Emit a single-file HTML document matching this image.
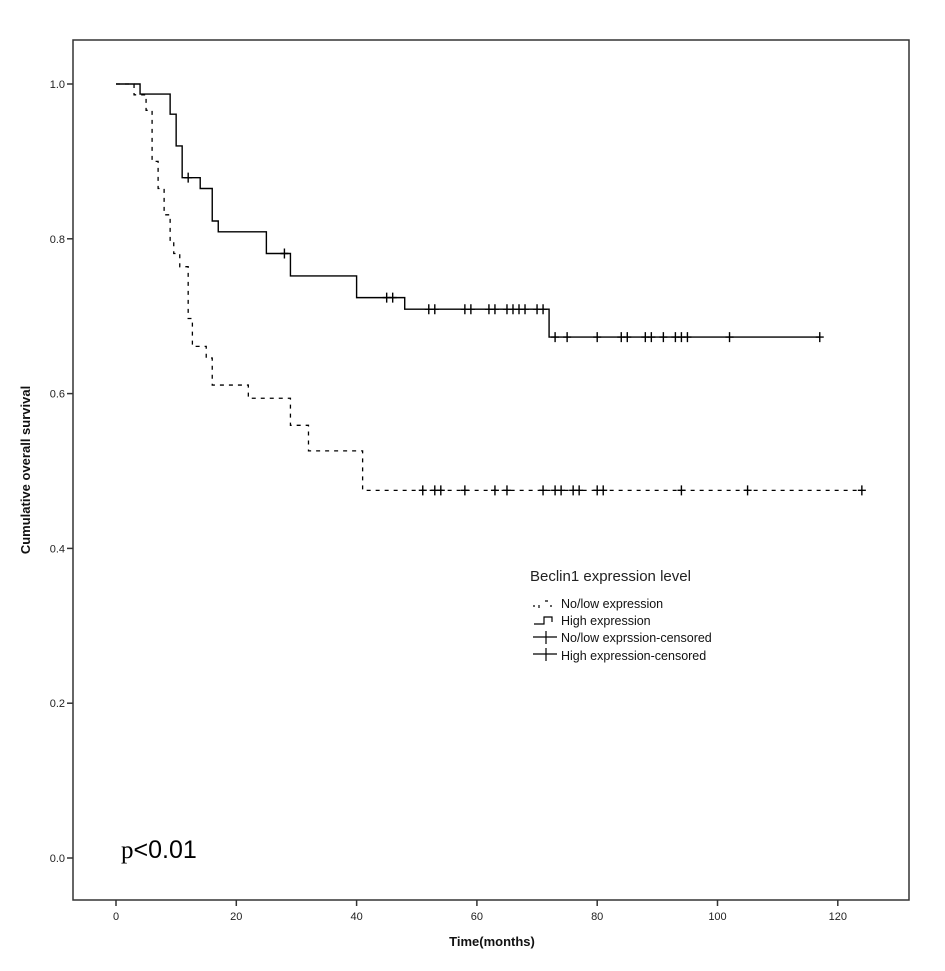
<!DOCTYPE html>
<html><head><meta charset="utf-8"><style>
html,body{margin:0;padding:0;background:#fff;}
svg{display:block;font-family:"Liberation Sans",Arial,sans-serif;}
</style></head><body>
<svg id="chart" width="945" height="971" viewBox="0 0 945 971">
<rect x="0" y="0" width="945" height="971" fill="#fff"/>
<rect x="73" y="40" width="836" height="860" fill="none" stroke="#333" stroke-width="1.5"/>
<g id="axes"></g>
<g id="series"></g>
<text x="30" y="470" transform="rotate(-90 30 470)" text-anchor="middle" font-size="13" font-weight="bold" fill="#111">Cumulative overall survival</text>
<text x="492" y="946" text-anchor="middle" font-size="13" font-weight="bold" fill="#111">Time(months)</text>
<text x="121" y="858" font-size="25" fill="#000"><tspan font-family="Liberation Serif,serif">p</tspan>&lt;0.01</text>
<g>
<text x="530" y="581" font-size="15" fill="#222">Beclin1 expression level</text>
<g>
<path d="M533 606 h2 M539 605 v3 M545 601 h3 M550 606 h2" stroke="#000" stroke-width="1.2" fill="none"/>
<text x="561" y="608" font-size="12.5" fill="#111">No/low expression</text></g>
<g>
<path d="M534 624 h10 v-7 h8 v5" stroke="#000" stroke-width="1.2" fill="none"/>
<text x="561" y="625" font-size="12.5" fill="#111">High expression</text></g>
<g>
<path d="M533 637 h24 M546 631 v13" stroke="#000" stroke-width="1.2" fill="none"/>
<text x="561" y="642" font-size="12.5" fill="#111">No/low exprssion-censored</text></g>
<g>
<path d="M533 654 h24 M546 648 v13" stroke="#000" stroke-width="1.2" fill="none"/>
<text x="561" y="660" font-size="12.5" fill="#111">High expression-censored</text></g>
</g>
</svg>
<script>
const xTicks=[0,20,40,60,80,100,120];
const yTicks=[0.0,0.2,0.4,0.6,0.8,1.0];
const yTickLabels=["0.0","0.2","0.4","0.6","0.8","1.0"];
const highTimes=[4,9,10,11,14,16,17,25,29,40,48,72];
const highSurv=[0.987,0.961,0.920,0.879,0.865,0.823,0.809,0.781,0.752,0.724,0.709,0.673];
const highEnd=117;
const highCensored=[12,28,45,46,52,53,58,59,62,63,65,66,67,68,70,71,73,75,80,84,85,88,89,91,93,94,95,102,117];
const lowTimes=[3,5,6,7,8,9,9.6,10.6,12,12.7,15,16,22,29,32,41];
const lowSurv=[0.986,0.966,0.90,0.865,0.831,0.796,0.781,0.764,0.697,0.661,0.646,0.611,0.594,0.559,0.526,0.475];
const lowEnd=124;
const lowCensored=[51,53,54,58,63,65,71,73,74,76,77,80,81,94,105,124];

const NS="http://www.w3.org/2000/svg";
function xs(m){return 116+m*6.015;}
function ys(v){return 858-v*774;}
const axes=document.getElementById('axes');
const series=document.getElementById('series');
function mk(tag,attrs,parent){const e=document.createElementNS(NS,tag);for(const k in attrs)e.setAttribute(k,attrs[k]);parent.appendChild(e);return e;}
xTicks.forEach(t=>{
  const l=mk('line',{x1:xs(t),x2:xs(t),y1:900,y2:906,stroke:'#333','stroke-width':1.5},axes);
  
  
  const tx=mk('text',{x:xs(t),y:920,'text-anchor':'middle','font-size':11,fill:'#222'},axes);
  tx.textContent=t;
  
  
});
yTicks.forEach((t,i)=>{
  const l=mk('line',{x1:67,x2:73,y1:ys(t),y2:ys(t),stroke:'#333','stroke-width':1.5},axes);
  
  
  const tx=mk('text',{x:65,y:ys(t)+4,'text-anchor':'end','font-size':11,fill:'#222'},axes);
  tx.textContent=yTickLabels[i];
  
  
});
function stepPath(times,surv,end){
  let d='M'+xs(0)+' '+ys(1);let v=1;
  times.forEach((t,i)=>{d+=' H'+xs(t)+' V'+ys(surv[i]);v=surv[i];});
  d+=' H'+xs(end);return d;
}
function survAt(times,surv,t){let v=1;times.forEach((tt,i)=>{if(tt<=t)v=surv[i];});return v;}
const lowP=mk('path',{d:stepPath(lowTimes,lowSurv,lowEnd),fill:'none',stroke:'#000','stroke-width':1.3,'stroke-dasharray':'4 5'},series);


const highP=mk('path',{d:stepPath(highTimes,highSurv,highEnd),fill:'none',stroke:'#000','stroke-width':1.4},series);


function cens(list,times,surv,name){
  list.forEach(t=>{
    const x=xs(t),y=ys(survAt(times,surv,t));
    const p=mk('path',{d:`M${x-4} ${y} H${x+4} M${x} ${y-5} V${y+5}`,stroke:'#000','stroke-width':1.4,fill:'none'},series);
    
    
  });
}
cens(lowCensored,lowTimes,lowSurv,'low-censored-mark');
cens(highCensored,highTimes,highSurv,'high-censored-mark');
</script>
</body></html>
